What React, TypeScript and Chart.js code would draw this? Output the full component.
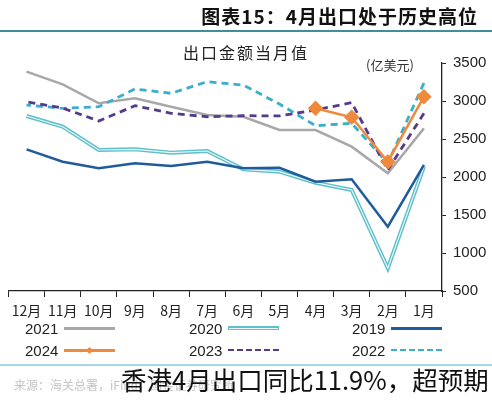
import React, { useEffect, useRef } from "react";
import { Chart, registerables } from "chart.js";

Chart.register(...registerables);

const months = ["1月", "2月", "3月", "4月", "5月", "6月", "7月", "8月", "9月", "10月", "11月", "12月"];
const yTicks = [500, 1000, 1500, 2000, 2500, 3000, 3500];

const s2019 = [2158, 1346, 1970, 1938, 2122, 2114, 2201, 2145, 2180, 2114, 2201, 2364];
const s2020 = [2136, 799, 1829, 1925, 2070, 2101, 2342, 2320, 2364, 2355, 2662, 2803];
const s2021 = [2640, 2049, 2399, 2618, 2618, 2793, 2816, 2925, 3035, 2970, 3220, 3386];
const s2022 = [3237, 2180, 2706, 2675, 2960, 3210, 3254, 3101, 3158, 2925, 2904, 2947];
const s2023 = [2838, 2092, 2978, 2882, 2803, 2807, 2793, 2838, 2938, 2737, 2907, 2990];
const s2024 = [3057, 2201, 2786, 2904];

const FONT = "'Liberation Sans', 'Noto Sans CJK SC', sans-serif";
const CJK = "'Noto Sans CJK SC', 'Liberation Sans', sans-serif";

const C2019 = "#1f5c99";
const C2020 = "#5fbfca";
const C2021 = "#a8a8a8";
const C2022 = "#3aaecb";
const C2023 = "#563b8c";
const C2024 = "#ef8a3c";

type LegendItem = { label: string; color: string; dash?: boolean; double?: boolean; marker?: boolean; left: number; top: number };

const legendItems: LegendItem[] = [
  { label: "2019", color: C2019, left: 352, top: 328 },
  { label: "2020", color: C2020, double: true, left: 189, top: 328 },
  { label: "2021", color: C2021, left: 25, top: 328 },
  { label: "2022", color: C2022, dash: true, left: 352, top: 350 },
  { label: "2023", color: C2023, dash: true, left: 189, top: 350 },
  { label: "2024", color: C2024, marker: true, left: 25, top: 350 },
];

export default function App() {
  const ref = useRef<HTMLCanvasElement | null>(null);

  useEffect(() => {
    if (!ref.current) return;
    const chart = new Chart(ref.current, {
      type: "line",
      data: {
        labels: months,
        datasets: [
          {
            label: "2024",
            data: s2024,
            borderColor: C2024,
            backgroundColor: C2024,
            borderWidth: 2.5,
            pointStyle: "rectRot",
            pointRadius: 6,
            pointBackgroundColor: C2024,
            pointBorderColor: C2024,
            order: 0,
          },
          {
            label: "2023",
            data: s2023,
            borderColor: C2023,
            borderWidth: 2.8,
            borderDash: [7, 5],
            pointRadius: 0,
            order: 1,
          },
          {
            label: "2022",
            data: s2022,
            borderColor: C2022,
            borderWidth: 2.8,
            borderDash: [7, 5],
            pointRadius: 0,
            order: 2,
          },
          {
            label: "2021",
            data: s2021,
            borderColor: C2021,
            borderWidth: 2.5,
            pointRadius: 0,
            order: 3,
          },
          {
            label: "2019",
            data: s2019,
            borderColor: C2019,
            borderWidth: 2.5,
            pointRadius: 0,
            order: 4,
          },
          {
            label: "2020 inner",
            data: s2020,
            borderColor: "#e8f8fa",
            borderWidth: 1.2,
            pointRadius: 0,
            order: 5,
          },
          {
            label: "2020",
            data: s2020,
            borderColor: C2020,
            borderWidth: 4,
            pointRadius: 0,
            order: 6,
          },
        ],
      },
      options: {
        animation: false,
        responsive: false,
        maintainAspectRatio: false,
        layout: { padding: { left: 6, top: 63, right: 0, bottom: 0 } },
        plugins: {
          legend: { display: false },
          tooltip: { enabled: false },
          title: { display: false },
        },
        scales: {
          x: {
            type: "category",
            reverse: true,
            offset: true,
            grid: {
              display: true,
              drawOnChartArea: false,
              drawTicks: true,
              tickLength: 6,
              color: "#222",
              offset: true,
            },
            border: { display: true, color: "#222", width: 1.3 },
            ticks: {
              color: "#222",
              font: { family: CJK, size: 14 },
              padding: 5,
              maxRotation: 0,
              minRotation: 0,
              autoSkip: false,
            },
            afterFit: (scale: any) => {
              scale.height = 109;
            },
          },
          y: {
            position: "right",
            min: 500,
            max: 3500,
            afterBuildTicks: (scale: any) => {
              scale.ticks = yTicks.map((v) => ({ value: v }));
            },
            grid: {
              display: true,
              drawOnChartArea: false,
              drawTicks: true,
              tickLength: 4,
              color: "#222",
            },
            border: { display: true, color: "#222", width: 1.3 },
            ticks: {
              color: "#222",
              font: { family: FONT, size: 15 },
              padding: 7,
              callback: (v: any) => String(v),
            },
            afterFit: (scale: any) => {
              scale.width = 50;
            },
          },
        },
      },
    });
    return () => chart.destroy();
  }, []);

  const abs: React.CSSProperties = { position: "absolute", whiteSpace: "nowrap", pointerEvents: "none" };

  return (
    <div style={{ position: "absolute", left: 0, top: 0, width: 492, height: 400, background: "#fff", overflow: "hidden", fontFamily: CJK }}>
      <canvas ref={ref} width={492} height={400} style={{ position: "absolute", left: 0, top: 0, width: 492, height: 400 }} />
      <div style={{ ...abs, right: 14, top: 2, fontSize: 19, fontWeight: 700, color: "#111", letterSpacing: 1 }}>
        图表15：4月出口处于历史高位
      </div>
      <div style={{ ...abs, left: 0, top: 30, width: 492, height: 2, background: "#3e8f9b" }} />
      <div style={{ ...abs, left: 183, top: 40, fontSize: 16, color: "#222", letterSpacing: 2 }}>出口金额当月值</div>
      <div style={{ ...abs, left: 366, top: 55, fontSize: 13, color: "#333" }}>(亿美元)</div>
      {legendItems.map((it) => (
        <div key={it.label} style={{ ...abs, left: it.left, top: it.top - 10, height: 20, display: "flex", alignItems: "center" }}>
          <span style={{ fontFamily: FONT, fontSize: 15, color: "#222", width: 36 }}>{it.label}</span>
          <span style={{ position: "relative", display: "inline-block", width: 51, height: 6, marginLeft: 3 }}>
            {it.dash ? (
              <span style={{ position: "absolute", left: 0, top: 2, width: 51, height: 0, borderTop: `2.5px dashed ${it.color}` }} />
            ) : it.double ? (
              <>
                <span style={{ position: "absolute", left: 0, top: 1, width: 51, height: 4, background: it.color }} />
                <span style={{ position: "absolute", left: 1, top: 2.5, width: 49, height: 1, background: "#e8f8fa" }} />
              </>
            ) : (
              <span style={{ position: "absolute", left: 0, top: 2, width: 51, height: 2.5, background: it.color }} />
            )}
            {it.marker ? (
              <span style={{ position: "absolute", left: 23, top: 0.5, width: 5, height: 5, background: it.color, transform: "rotate(45deg)" }} />
            ) : null}
          </span>
        </div>
      ))}
      <div style={{ ...abs, left: 0, top: 364, width: 492, height: 1.5, background: "#a9d6e6" }} />
      <div style={{ ...abs, left: 14, top: 376, fontSize: 12, color: "#c4c4c4" }}>来源：海关总署，iFind，国金证券研究所</div>
      <div style={{ ...abs, left: 121, top: 362, fontSize: 25.5, color: "#111", lineHeight: "34px" }}>香港4月出口同比11.9%，超预期</div>
    </div>
  );
}
